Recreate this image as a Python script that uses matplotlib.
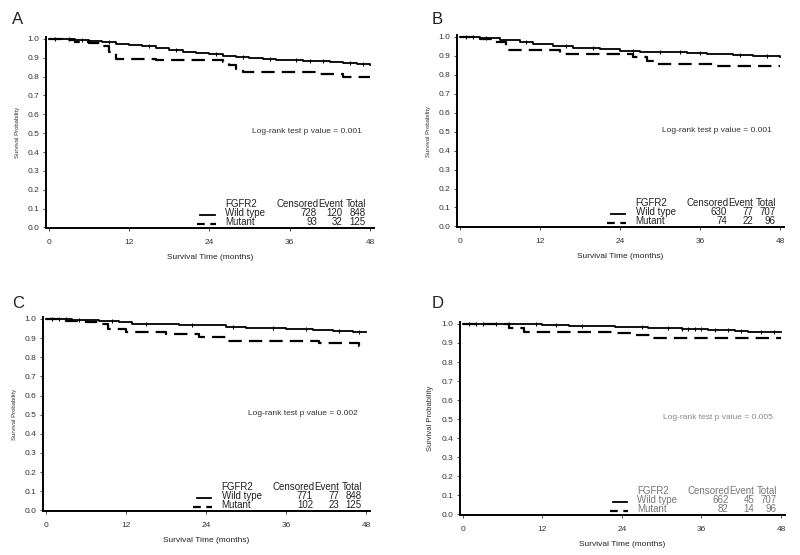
"""Kaplan-Meier survival curves by FGFR2 status, four panels (A-D)."""
import matplotlib
matplotlib.use("Agg")
import matplotlib.pyplot as plt

plt.rcParams["font.family"] = ["Liberation Sans", "DejaVu Sans"]

# ─── Data ─────────────────────────────────────────────────────────────────────

panel_letters = ["A", "B", "C", "D"]
p_values = ["0.001", "0.001", "0.002", "0.005"]

# step curves: month at which survival changes, survival after that time
wt_times_A = [0, 2, 4, 6, 8, 10, 12, 14, 16, 18, 20, 22, 24, 26, 28, 30, 32, 34, 36, 38, 40, 42, 44, 46, 48]
wt_surv_A = [1.0, 0.997, 0.993, 0.988, 0.982, 0.975, 0.968, 0.960, 0.951, 0.942, 0.933, 0.925, 0.918,
             0.911, 0.904, 0.898, 0.893, 0.890, 0.887, 0.884, 0.881, 0.879, 0.872, 0.866, 0.864]
mu_times_A = [0, 2, 4, 6, 8, 9, 10, 16, 26, 27, 28, 29, 40, 44, 48]
mu_surv_A = [1.0, 0.992, 0.984, 0.976, 0.96, 0.93, 0.893, 0.888, 0.88, 0.86, 0.84, 0.823, 0.812, 0.80, 0.80]

wt_times_B = [0, 3, 6, 9, 11, 14, 17, 21, 24, 27, 31, 34, 37, 41, 44, 48]
wt_surv_B = [1.0, 0.995, 0.985, 0.972, 0.962, 0.952, 0.944, 0.935, 0.928, 0.922, 0.918, 0.913, 0.909,
             0.906, 0.900, 0.896]
mu_times_B = [0, 3, 5, 7, 15, 26, 28, 29.5, 38, 48]
mu_surv_B = [1.0, 0.988, 0.975, 0.93, 0.91, 0.892, 0.875, 0.857, 0.844, 0.844]

wt_times_C = [0, 4, 8, 11, 13, 17, 20, 23, 27, 30, 33, 36, 40, 43, 46, 48]
wt_surv_C = [1.0, 0.995, 0.99, 0.984, 0.976, 0.972, 0.969, 0.967, 0.96, 0.955, 0.95, 0.946, 0.941,
             0.937, 0.932, 0.930]
mu_times_C = [0, 3, 6, 8, 9.4, 12, 18, 23, 27, 41, 47, 48]
mu_surv_C = [1.0, 0.99, 0.982, 0.975, 0.947, 0.93, 0.92, 0.907, 0.887, 0.873, 0.86, 0.86]

wt_times_D = [0, 6, 12, 16, 20, 23, 28, 33, 37, 41, 43, 48]
wt_surv_D = [1.0, 0.997, 0.994, 0.99, 0.987, 0.984, 0.978, 0.972, 0.967, 0.962, 0.957, 0.955]
mu_times_D = [0, 7, 9.3, 23, 26, 28.5, 48]
mu_surv_D = [1.0, 0.98, 0.96, 0.95, 0.94, 0.924, 0.924]

# censoring ticks (months) on the wild-type curve
wt_censor_A = [1, 3, 5, 9, 15, 19, 25, 29, 33, 37, 39, 41, 45, 47]
wt_censor_B = [1, 2, 4, 10, 16, 20, 26, 30, 33, 36, 42, 46]
wt_censor_C = [1, 2, 3, 5, 10, 15, 22, 28, 34, 39, 44, 47]
wt_censor_D = [1, 2, 3, 5, 7, 11, 14, 18, 27, 31, 33, 34, 35, 36, 38, 40, 42, 45, 47]

# legend tables: censored, event, total
wt_counts = [[728, 120, 848], [630, 77, 707], [771, 77, 848], [662, 45, 707]]
mu_counts = [[93, 32, 125], [74, 22, 96], [102, 23, 125], [82, 14, 96]]

x_ticks = [0, 12, 24, 36, 48]
y_ticks = [0.0, 0.1, 0.2, 0.3, 0.4, 0.5, 0.6, 0.7, 0.8, 0.9, 1.0]

wt_times = [wt_times_A, wt_times_B, wt_times_C, wt_times_D]
wt_surv = [wt_surv_A, wt_surv_B, wt_surv_C, wt_surv_D]
mu_times = [mu_times_A, mu_times_B, mu_times_C, mu_times_D]
mu_surv = [mu_surv_A, mu_surv_B, mu_surv_C, mu_surv_D]
wt_censor = [wt_censor_A, wt_censor_B, wt_censor_C, wt_censor_D]


def surv_at(times, surv, t):
    val = surv[0]
    for ti, si in zip(times, surv):
        if ti <= t:
            val = si
    return val


# ─── Figure ───────────────────────────────────────────────────────────────────

fig = plt.figure(figsize=(8, 5.55), dpi=100)

# axes boxes in pixels: left, right, top, bottom
boxes = [(46, 374, 37, 228), (457, 784, 35, 227), (43, 370, 317, 511), (460, 785, 322, 515)]
letter_pos = [(12, 20), (432, 20), (12, 303), (432, 303)]

for i, (l, r, t, b) in enumerate(boxes):
    ax = fig.add_axes([l / 800, 1 - b / 555, (r - l) / 800, (b - t) / 555])
    gray_d = "#777777" if i == 3 else "#222222"

    ax.step(wt_times[i], wt_surv[i], where="post", color="black", lw=1.3)
    ax.step(mu_times[i], mu_surv[i], where="post", color="black", lw=1.6,
            dashes=(6, 3.2))
    cy = [surv_at(wt_times[i], wt_surv[i], c) for c in wt_censor[i]]
    ax.plot(wt_censor[i], cy, ls="none", marker="|", ms=3, mew=0.8, color="black")

    ax.set_xlim(-0.4, 48.6)
    ax.set_ylim(-0.003, 1.01)
    ax.set_xticks(x_ticks)
    ax.set_yticks(y_ticks)
    ax.set_yticklabels([f"{v:.1f}" for v in y_ticks])
    ax.tick_params(labelsize=6, length=2, width=0.6, colors="#333333", pad=3)
    ax.tick_params(axis="x", pad=6)
    for s in ["top", "right"]:
        ax.spines[s].set_visible(False)
    for s in ["left", "bottom"]:
        ax.spines[s].set_linewidth(1.4)

    ax.set_xlabel("Survival Time (months)", fontsize=6, color="#222222", labelpad=6)
    ax.set_ylabel("Survival Probability", fontsize=4.3 if i < 3 else 5.5,
                  color="#333333", labelpad=5)

    ax.text(0.795, 0.505, f"Log-rank test p value = {p_values[i]}", transform=ax.transAxes,
            fontsize=6, color="#888888" if i == 3 else "#333333", ha="center", va="center")

    # legend table
    tkw = dict(transform=ax.transAxes, fontsize=7, color=gray_d, va="center")
    ax.text(0.546, 0.126, "FGFR2", ha="left", **tkw)
    ax.text(0.546, 0.079, "Wild type", ha="left", **tkw)
    ax.text(0.546, 0.032, "Mutant", ha="left", **tkw)
    ax.text(0.83, 0.126, "Censored", ha="right", **tkw)
    ax.text(0.905, 0.126, "Event", ha="right", **tkw)
    ax.text(0.975, 0.126, "Total", ha="right", **tkw)
    for row, y in zip([wt_counts[i], mu_counts[i]], [0.079, 0.032]):
        ax.text(0.826, y, str(row[0]), ha="right", **tkw)
        ax.text(0.905, y, str(row[1]), ha="right", **tkw)
        ax.text(0.975, y, str(row[2]), ha="right", **tkw)
    ax.plot([0.47, 0.515], [0.068, 0.068], transform=ax.transAxes, color="black", lw=1.3)
    ax.plot([0.46, 0.518], [0.022, 0.022], transform=ax.transAxes, color="black", lw=1.6,
            dashes=(3.5, 2.5))

    fig.text(letter_pos[i][0] / 800, 1 - letter_pos[i][1] / 555, panel_letters[i],
             fontsize=12, color="#222222", va="center", ha="left")

fig.savefig("out.png", dpi=100)
